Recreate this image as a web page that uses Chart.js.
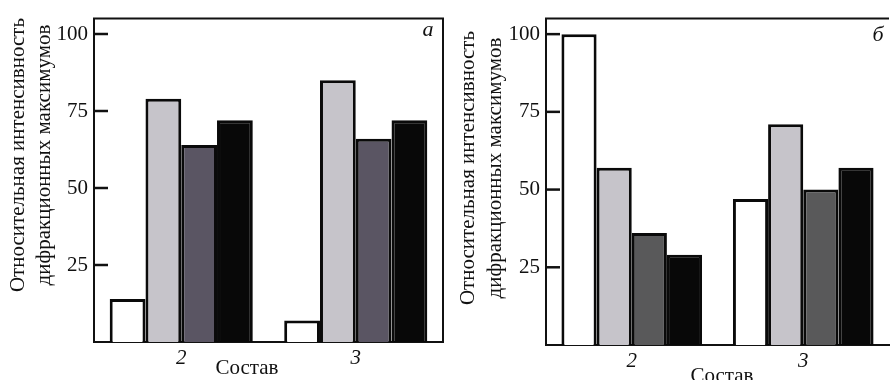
<!DOCTYPE html>
<html>
<head>
<meta charset="utf-8">
<script src="https://cdn.jsdelivr.net/npm/chart.js@4.4.1/dist/chart.umd.min.js"></script>
<style>
  body { margin: 0; background: #fff; }
  .wrap { position: relative; width: 890px; height: 380px; overflow: hidden; }
  .panel { position: absolute; top: 0; height: 380px; }
  #panelA { left: 0; width: 450px; }
  #panelB { left: 450px; width: 440px; }
</style>
</head>
<body>
<div class="wrap">
  <div class="panel" id="panelA"><canvas id="chartA"></canvas></div>
  <div class="panel" id="panelB"><canvas id="chartB"></canvas></div>
</div>
<script>
// categories (состав) and tick values
const categories = ["2", "3"];
const yTicks = [25, 50, 75, 100];

// panel a
const aWhite = [14, 7];
const aLight = [79, 85];
const aDark = [64, 66];
const aBlack = [72, 72];

// panel б
const bWhite = [100, 47];
const bLight = [57, 71];
const bDark = [36, 50];
const bBlack = [29, 57];

const yTitle = ["Относительная интенсивность", "дифракционных максимумов"];
const FONT = "'Liberation Serif', 'DejaVu Serif', serif";
const INK = "#111111";

// draws the frame, inward ticks, axis titles and panel letter
const panelDecor = {
  id: "panelDecor",
  afterDraw(chart, args, opts) {
    const ctx = chart.ctx;
    const area = chart.chartArea;
    const y = chart.scales.y;
    ctx.save();
    ctx.strokeStyle = INK;
    ctx.lineWidth = 2;
    // frame
    ctx.beginPath();
    ctx.moveTo(area.left, area.bottom);
    ctx.lineTo(area.left, area.top);
    ctx.lineTo(area.right, area.top);
    if (opts.rightBorder) ctx.lineTo(area.right, area.bottom);
    ctx.stroke();
    // inward tick marks
    ctx.lineWidth = 2.5;
    yTicks.forEach((v) => {
      const py = y.getPixelForValue(v);
      ctx.beginPath();
      ctx.moveTo(area.left, py);
      ctx.lineTo(area.left + 14, py);
      ctx.stroke();
    });
    ctx.fillStyle = INK;
    ctx.textAlign = "center";
    ctx.textBaseline = "middle";
    // y title, two rotated lines
    ctx.font = "21px " + FONT;
    yTitle.forEach((line, i) => {
      ctx.save();
      ctx.translate(opts.titleX[i], opts.titleY);
      ctx.rotate(-Math.PI / 2);
      ctx.fillText(line, 0, 0);
      ctx.restore();
    });
    // x title
    ctx.fillText("Состав", opts.xTitle[0], opts.xTitle[1]);
    // panel letter
    ctx.font = "italic 22px " + FONT;
    ctx.fillText(opts.letter, opts.letterPos[0], opts.letterPos[1]);
    ctx.restore();
  },
};

function makeChart(canvasId, series, cfg) {
  const colors = ["#ffffff", "#c6c4ca", cfg.darkColor, "#080808"];
  return new Chart(document.getElementById(canvasId), {
    type: "bar",
    data: {
      labels: categories,
      datasets: series.map((data, i) => ({
        data: data,
        backgroundColor: colors[i],
        borderColor: "#0a0a0a",
        borderWidth: 3,
        categoryPercentage: 0.82,
        barPercentage: 1.0,
      })),
    },
    options: {
      responsive: true,
      maintainAspectRatio: false,
      animation: false,
      layout: { padding: { top: cfg.top, right: cfg.right, left: 0, bottom: 0 } },
      plugins: {
        legend: { display: false },
        tooltip: { enabled: false },
        panelDecor: cfg.decor,
      },
      scales: {
        x: {
          grid: { display: false, drawTicks: false },
          border: { display: true, color: INK, width: 2 },
          ticks: { color: INK, padding: 4, font: { family: FONT, size: 21, style: "italic" } },
          afterFit: (scale) => { scale.height = cfg.xHeight; },
        },
        y: {
          min: 0,
          max: 105,
          grid: { display: false, drawTicks: false },
          border: { display: true, color: INK, width: 2 },
          afterBuildTicks: (scale) => { scale.ticks = yTicks.map((v) => ({ value: v })); },
          ticks: { color: INK, padding: 6, font: { family: FONT, size: 21 } },
          afterFit: (scale) => { scale.width = cfg.yWidth; },
        },
      },
    },
    plugins: [panelDecor],
  });
}

makeChart("chartA", [aWhite, aLight, aDark, aBlack], {
  darkColor: "#5a5563",
  top: 12, right: 7, yWidth: 94, xHeight: 38,
  decor: { rightBorder: true, titleX: [18, 44], titleY: 155, xTitle: [247, 368], letter: "a", letterPos: [428, 30] },
});

makeChart("chartB", [bWhite, bLight, bDark, bBlack], {
  darkColor: "#59595a",
  top: 15, right: 1, yWidth: 96, xHeight: 35,
  decor: { rightBorder: false, titleX: [18, 45], titleY: 168, xTitle: [272, 376], letter: "б", letterPos: [428, 35] },
});
</script>
</body>
</html>
